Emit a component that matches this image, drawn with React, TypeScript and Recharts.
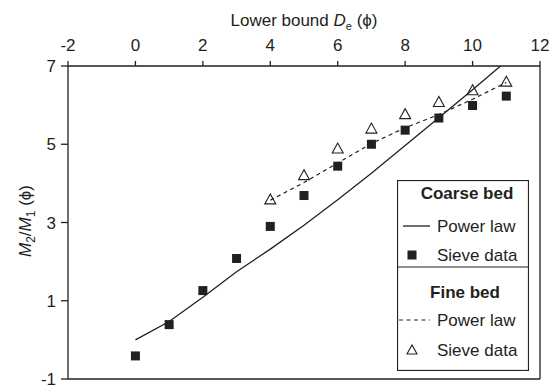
import React from "react";
import { ScatterChart, Scatter, XAxis, YAxis, ReferenceLine } from "recharts";

const ink = "#231f20";
const font = "'Liberation Sans', Arial, sans-serif";

const xTicks = [-2, 0, 2, 4, 6, 8, 10, 12];
const yTicks = [-1, 1, 3, 5, 7];

// coarse bed
const coarseLawX = [0, 1, 2, 3, 4, 5, 6, 7, 8, 9, 10, 10.83];
const coarseLawY = [0.0, 0.47, 1.09, 1.74, 2.32, 2.93, 3.58, 4.26, 4.97, 5.68, 6.39, 7.0];
const coarseSieveX = [0, 1, 2, 3, 4, 5, 6, 7, 8, 9, 10, 11];
const coarseSieveY = [-0.41, 0.39, 1.26, 2.08, 2.9, 3.69, 4.44, 5.0, 5.36, 5.67, 5.99, 6.23];

// fine bed
const fineLawX = [4, 5, 6, 7, 8, 9, 10, 11];
const fineLawY = [3.57, 4.02, 4.52, 5.02, 5.42, 5.76, 6.15, 6.58];
const fineSieveX = [4, 5, 6, 7, 8, 9, 10, 11];
const fineSieveY = [3.59, 4.21, 4.89, 5.4, 5.77, 6.08, 6.38, 6.6];

const zip = (xs: number[], ys: number[]) => xs.map((x, i) => ({ x, y: ys[i] }));

const Square = (props: any) => {
  const { cx, cy } = props;
  return <rect x={cx - 4.5} y={cy - 4.5} width={9} height={9} fill={ink} />;
};

const Triangle = (props: any) => {
  const { cx, cy } = props;
  return (
    <polygon
      points={`${cx},${cy - 5.5} ${cx - 5.5},${cy + 4.5} ${cx + 5.5},${cy + 4.5}`}
      fill="none"
      stroke={ink}
      strokeWidth={1.1}
    />
  );
};

const NoDot = () => <g />;

const LegendBox = () => (
  <div style={{ position: "absolute", left: 397, top: 180, width: 132, height: 191 }}>
    <svg width={132} height={191} style={{ display: "block" }}>
      <rect x={0.5} y={0.5} width={131} height={190} fill="white" stroke={ink} strokeWidth={1.2} />
      <g fontFamily={font} fontSize={17} fill={ink}>
        <text x={70} y={19} textAnchor="middle" fontWeight="bold">Coarse bed</text>
        <line x1={6} x2={33} y1={46} y2={46} stroke={ink} strokeWidth={1.3} />
        <text x={40} y={52}>Power law</text>
        <rect x={10.5} y={70.5} width={9} height={9} fill={ink} />
        <text x={40} y={81}>Sieve data</text>
        <line x1={0} x2={132} y1={87} y2={87} stroke={ink} strokeWidth={1.2} />
        <text x={68} y={118} textAnchor="middle" fontWeight="bold">Fine bed</text>
        <line x1={2} x2={33} y1={140} y2={140} stroke={ink} strokeWidth={1.2} strokeDasharray="4 3.5" />
        <text x={40} y={146}>Power law</text>
        <polygon points="15,165 10,174 20,174" fill="none" stroke={ink} strokeWidth={1.1} />
        <text x={40} y={176}>Sieve data</text>
      </g>
    </svg>
  </div>
);

export default function App() {
  const tickStyle = { fill: ink, fontSize: 17, fontFamily: font };
  return (
    <div style={{ position: "absolute", left: 0, top: 0, width: 555, height: 387, background: "white" }}>
      <ScatterChart width={555} height={387} margin={{ top: 0, right: 15, bottom: 8, left: 0 }}>
        <XAxis
          type="number"
          dataKey="x"
          orientation="top"
          domain={[-2, 12]}
          ticks={xTicks}
          interval={0}
          height={66}
          tickSize={5}
          tickMargin={10}
          tick={tickStyle}
          axisLine={{ stroke: ink, strokeWidth: 1.3 }}
          tickLine={{ stroke: ink, strokeWidth: 1.3 }}
          allowDataOverflow
        />
        <YAxis
          type="number"
          dataKey="y"
          domain={[-1, 7]}
          ticks={yTicks}
          interval={0}
          width={68}
          tickSize={7}
          tickMargin={5}
          tick={tickStyle}
          axisLine={{ stroke: ink, strokeWidth: 1.3 }}
          tickLine={{ stroke: ink, strokeWidth: 1.3 }}
          allowDataOverflow
        />
        <ReferenceLine x={12} stroke={ink} strokeWidth={1.3} />
        <ReferenceLine y={-1} stroke={ink} strokeWidth={1.3} />
        <Scatter
          data={zip(coarseLawX, coarseLawY)}
          line={{ stroke: ink, strokeWidth: 1.3 }}
          shape={NoDot}
          isAnimationActive={false}
        />
        <Scatter
          data={zip(fineLawX, fineLawY)}
          line={{ stroke: ink, strokeWidth: 1.2, strokeDasharray: "4 3.5" }}
          shape={NoDot}
          isAnimationActive={false}
        />
        <Scatter data={zip(coarseSieveX, coarseSieveY)} shape={Square} isAnimationActive={false} />
        <Scatter data={zip(fineSieveX, fineSieveY)} shape={Triangle} isAnimationActive={false} />
      </ScatterChart>
      <svg width={555} height={387} style={{ position: "absolute", left: 0, top: 0, pointerEvents: "none" }}>
        <text x={304} y={26} textAnchor="middle" fontFamily={font} fontSize={17} fill={ink}>
          Lower bound <tspan fontStyle="italic">D</tspan>
          <tspan fontSize={11} dy={4}>e</tspan>
          <tspan dy={-4}> (ϕ)</tspan>
        </text>
        <text
          transform="translate(31,221) rotate(-90)"
          textAnchor="middle"
          fontFamily={font}
          fontSize={17}
          fill={ink}
        >
          <tspan fontStyle="italic">M</tspan>
          <tspan fontSize={12} dy={4}>2</tspan>
          <tspan dy={-4}>/</tspan>
          <tspan fontStyle="italic">M</tspan>
          <tspan fontSize={12} dy={4}>1</tspan>
          <tspan dy={-4}> (ϕ)</tspan>
        </text>
      </svg>
      <LegendBox />
    </div>
  );
}
